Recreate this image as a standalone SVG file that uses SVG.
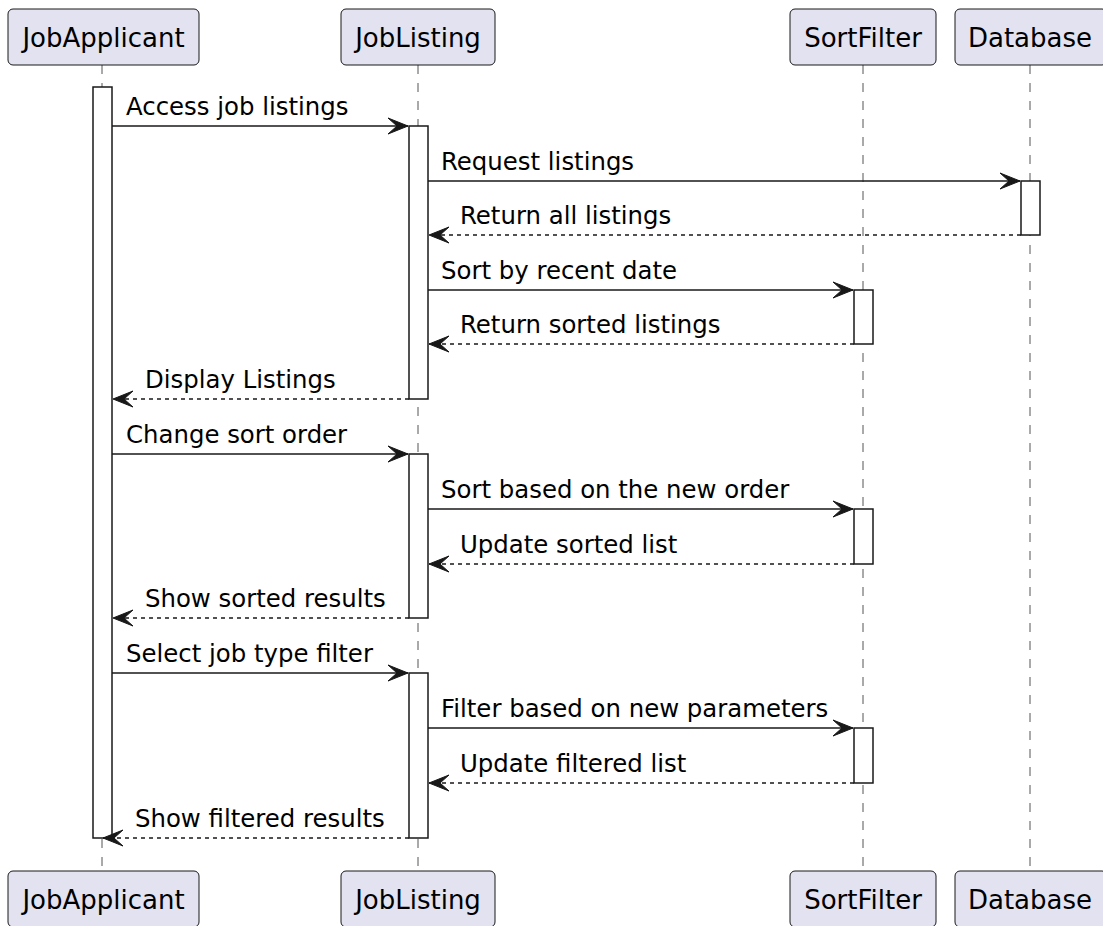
<svg xmlns="http://www.w3.org/2000/svg" width="1103" height="926" viewBox="0 0 1103 926">
<style>
.pbox{fill:#E2E2F0;stroke:#181818;stroke-width:1;}
.ptxt{font-family:"DejaVu Sans",sans-serif;font-size:26px;fill:#000;text-anchor:middle;}
.life{stroke:#555;stroke-width:1;stroke-dasharray:9,9;fill:none;}
.act{fill:#fff;stroke:#181818;stroke-width:1.5;}
.msg{stroke:#181818;stroke-width:1.5;fill:none;marker-end:url(#ah);}
.ret{stroke:#181818;stroke-width:1.5;fill:none;stroke-dasharray:4,4;marker-end:url(#ah);}
.mtxt{font-family:"DejaVu Sans",sans-serif;font-size:24.4px;fill:#000;}
</style>
<defs>
<marker id="ah" markerUnits="userSpaceOnUse" markerWidth="24" markerHeight="20" viewBox="-21 -10 24 20" refX="0" refY="0" orient="auto">
<path d="M0,0 L-20,-8 L-11,0 L-20,8 Z" fill="#181818" stroke="#181818" stroke-width="1"/>
</marker>
</defs>
<rect width="1103" height="926" fill="#fff"/>
<g id="lifelines">
<line class="life" x1="102" y1="65" x2="102" y2="871"/>
<line class="life" x1="418" y1="65" x2="418" y2="871"/>
<line class="life" x1="863" y1="65" x2="863" y2="871"/>
<line class="life" x1="1030" y1="65" x2="1030" y2="871"/>
</g>
<g id="activations">
<rect class="act" x="93" y="87" width="19" height="751"/>
<rect class="act" x="409" y="126" width="19" height="273"/>
<rect class="act" x="409" y="454" width="19" height="164"/>
<rect class="act" x="409" y="673" width="19" height="165"/>
<rect class="act" x="1021" y="181" width="19" height="54"/>
<rect class="act" x="854" y="290" width="19" height="54"/>
<rect class="act" x="854" y="509" width="19" height="55"/>
<rect class="act" x="854" y="728" width="19" height="55"/>
</g>
<g id="connectors">
<line class="msg" x1="112" y1="126" x2="408" y2="126"/>
<text class="mtxt" x="126" y="115">Access job listings</text>
<line class="msg" x1="428" y1="181" x2="1020" y2="181"/>
<text class="mtxt" x="441" y="170">Request listings</text>
<line class="ret" x1="1021" y1="235" x2="429" y2="235"/>
<text class="mtxt" x="460" y="224">Return all listings</text>
<line class="msg" x1="428" y1="290" x2="853" y2="290"/>
<text class="mtxt" x="441" y="279">Sort by recent date</text>
<line class="ret" x1="854" y1="344" x2="429" y2="344"/>
<text class="mtxt" x="460" y="333">Return sorted listings</text>
<line class="ret" x1="409" y1="399" x2="113" y2="399"/>
<text class="mtxt" x="145" y="388">Display Listings</text>
<line class="msg" x1="112" y1="454" x2="408" y2="454"/>
<text class="mtxt" x="126" y="443">Change sort order</text>
<line class="msg" x1="428" y1="509" x2="853" y2="509"/>
<text class="mtxt" x="441" y="498">Sort based on the new order</text>
<line class="ret" x1="854" y1="564" x2="429" y2="564"/>
<text class="mtxt" x="460" y="553">Update sorted list</text>
<line class="ret" x1="409" y1="618" x2="113" y2="618"/>
<text class="mtxt" x="145" y="607">Show sorted results</text>
<line class="msg" x1="112" y1="673" x2="408" y2="673"/>
<text class="mtxt" x="126" y="662">Select job type filter</text>
<line class="msg" x1="428" y1="728" x2="853" y2="728"/>
<text class="mtxt" x="441" y="717">Filter based on new parameters</text>
<line class="ret" x1="854" y1="783" x2="429" y2="783"/>
<text class="mtxt" x="460" y="772">Update filtered list</text>
<line class="ret" x1="409" y1="838" x2="103" y2="838"/>
<text class="mtxt" x="135" y="827">Show filtered results</text>
</g>
<g id="JobApplicant">
<rect class="pbox" x="8" y="9" width="191" height="56" rx="5"/>
<text class="ptxt" x="103.5" y="47">JobApplicant</text>
<rect class="pbox" x="8" y="871" width="191" height="56" rx="5"/>
<text class="ptxt" x="103.5" y="909">JobApplicant</text>
</g>
<g id="JobListing">
<rect class="pbox" x="341" y="9" width="154" height="56" rx="5"/>
<text class="ptxt" x="418" y="47">JobListing</text>
<rect class="pbox" x="341" y="871" width="154" height="56" rx="5"/>
<text class="ptxt" x="418" y="909">JobListing</text>
</g>
<g id="SortFilter">
<rect class="pbox" x="790" y="9" width="146" height="56" rx="5"/>
<text class="ptxt" x="863" y="47">SortFilter</text>
<rect class="pbox" x="790" y="871" width="146" height="56" rx="5"/>
<text class="ptxt" x="863" y="909">SortFilter</text>
</g>
<g id="Database">
<rect class="pbox" x="955" y="9" width="152" height="56" rx="5"/>
<text class="ptxt" x="1030" y="47">Database</text>
<rect class="pbox" x="955" y="871" width="152" height="56" rx="5"/>
<text class="ptxt" x="1030" y="909">Database</text>
</g>
</svg>
